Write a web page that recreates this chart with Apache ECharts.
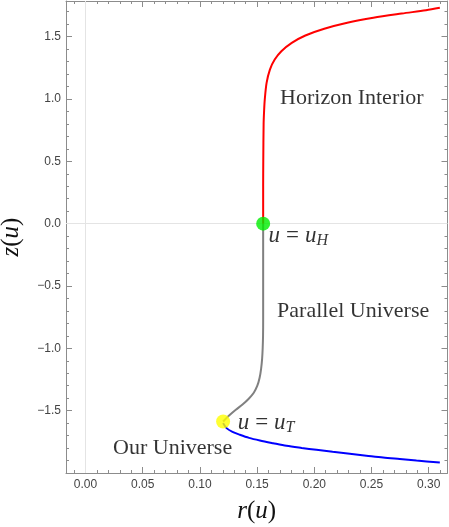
<!DOCTYPE html>
<html>
<head>
<meta charset="utf-8">
<script src="https://cdn.jsdelivr.net/npm/echarts@6/dist/echarts.min.js"></script>
<style>
  html, body { margin: 0; padding: 0; background: #fff; }
  #chart { width: 449px; height: 527px; }
</style>
</head>
<body>
<div id="chart"></div>
<script>
// horizon interior branch (red)
const redR = [0.1553, 0.1553, 0.1554, 0.1557, 0.1561, 0.1567, 0.1583, 0.1612, 0.1654, 0.1712, 0.1803, 0.1922, 0.2087, 0.2288, 0.2516, 0.2764, 0.2976, 0.3097];
const redZ = [0, 0.30, 0.50, 0.80, 0.90, 0.995, 1.129, 1.236, 1.316, 1.383, 1.450, 1.509, 1.563, 1.611, 1.651, 1.685, 1.712, 1.731];
// parallel universe branch (gray)
const grayR = [0.1553, 0.1553, 0.1553, 0.1552, 0.1549, 0.1544, 0.1535, 0.1522, 0.1502, 0.1471, 0.1427, 0.1375, 0.1314, 0.1253, 0.1203];
const grayZ = [0, -0.40, -0.770, -0.899, -0.995, -1.083, -1.164, -1.236, -1.300, -1.356, -1.404, -1.449, -1.493, -1.541, -1.587];
// our universe branch (blue)
const blueR = [0.1203, 0.1233, 0.1285, 0.1349, 0.1430, 0.1524, 0.1640, 0.1757, 0.1890, 0.2019, 0.2160, 0.2310, 0.2455, 0.2601, 0.2747, 0.2893, 0.3097];
const blueZ = [-1.600, -1.640, -1.670, -1.693, -1.718, -1.739, -1.761, -1.782, -1.799, -1.814, -1.830, -1.846, -1.861, -1.876, -1.888, -1.900, -1.916];

// marked points
const horizonPt = [0.1553, 0];
const turnPt = [0.1203, -1.587];

// text annotations
const noteText = ['Horizon Interior', 'Parallel Universe', 'Our Universe', '{i|u}{n|=}{i|u}{s|H}', '{i|u}{n|=}{i|u}{s|T}'];
const noteR = [0.1701, 0.1675, 0.0241, 0.1600, 0.1330];
const noteZ = [1.01, -0.70, -1.80, -0.095, -1.595];

// ticks
const xTicks = [0, 0.05, 0.10, 0.15, 0.20, 0.25, 0.30];
const yTicks = [-1.5, -1.0, -0.5, 0, 0.5, 1.0, 1.5];
const xMin = -0.017, xMax = 0.3164;
const yMin = -2.0, yMax = 1.786;

const xMinor = [];
for (let i = -1; i <= 31; i++) if (i % 5 !== 0) xMinor.push(+(i * 0.01).toFixed(2));
const yMinor = [];
for (let i = -19; i <= 17; i++) if (i % 5 !== 0) yMinor.push(+(i * 0.1).toFixed(1));

const zip = (a, b) => a.map((v, i) => [v, b[i]]);

const frame = '#8c8c8c';
const serif = 'Liberation Serif';
const mathRich = {
  i: { fontFamily: serif, fontStyle: 'italic', fontSize: 23, color: '#000', lineHeight: 26 },
  n: { fontFamily: serif, fontSize: 23, color: '#000', lineHeight: 26, padding: [0, 6] },
  s: { fontFamily: serif, fontStyle: 'italic', fontSize: 16, color: '#000', lineHeight: 10, verticalAlign: 'bottom' }
};

function xAxisOf(grid, pos, major) {
  return {
    type: 'value', gridIndex: grid, position: pos, min: xMin, max: xMax,
    axisLine: { show: major, onZero: false, lineStyle: { color: frame, width: 1 } },
    axisTick: { show: true, inside: true, length: major ? 6 : 3, customValues: major ? xTicks : xMinor,
      lineStyle: { color: frame } },
    axisLabel: { show: major && pos === 'bottom', customValues: xTicks, formatter: v => v.toFixed(2),
      color: '#444', fontFamily: 'Liberation Sans', fontSize: 12, margin: 6 },
    splitLine: { show: false },
    name: major && pos === 'bottom' ? '{i|r}{n|(}{i|u}{n|)}' : '',
    nameLocation: 'middle', nameGap: 26,
    nameTextStyle: { rich: {
      i: { fontFamily: serif, fontStyle: 'italic', fontSize: 25, color: '#111' },
      n: { fontFamily: serif, fontSize: 25, color: '#111' } } }
  };
}
function yAxisOf(grid, pos, major) {
  return {
    type: 'value', gridIndex: grid, position: pos, min: yMin, max: yMax,
    axisLine: { show: major, onZero: false, lineStyle: { color: frame, width: 1 } },
    axisTick: { show: true, inside: true, length: major ? 6 : 3, customValues: major ? yTicks : yMinor,
      lineStyle: { color: frame } },
    axisLabel: { show: major && pos === 'left', customValues: yTicks, formatter: v => v.toFixed(1).replace('-', '\u2212'),
      color: '#444', fontFamily: 'Liberation Sans', fontSize: 12, margin: 5 },
    splitLine: { show: false },
    name: major && pos === 'left' ? '{i|z}{n|(}{i|u}{n|)}' : '',
    nameLocation: 'middle', nameGap: 42, nameRotate: 90,
    nameTextStyle: { rich: {
      i: { fontFamily: serif, fontStyle: 'italic', fontSize: 25, color: '#111' },
      n: { fontFamily: serif, fontSize: 25, color: '#111' } } }
  };
}

const gridBox = { left: 66, right: 1.5, top: 1, bottom: 54, containLabel: false, outerBoundsMode: 'none' };

const chart = echarts.init(document.getElementById('chart'), null, { renderer: 'canvas' });
chart.setOption({
  animation: false,
  backgroundColor: '#fff',
  grid: [Object.assign({}, gridBox), Object.assign({}, gridBox)],
  xAxis: [xAxisOf(0, 'bottom', true), xAxisOf(0, 'top', true), xAxisOf(1, 'bottom', false), xAxisOf(1, 'top', false)],
  yAxis: [yAxisOf(0, 'left', true), yAxisOf(0, 'right', true), yAxisOf(1, 'left', false), yAxisOf(1, 'right', false)],
  series: [
    {
      type: 'line', xAxisIndex: 0, yAxisIndex: 0, data: zip(grayR, grayZ), showSymbol: false,
      lineStyle: { color: '#808080', width: 2 }, smooth: 0.3, z: 2,
      markLine: {
        silent: true, symbol: 'none', label: { show: false },
        lineStyle: { color: '#e4e4e4', width: 1, type: 'solid' },
        data: [{ xAxis: 0 }, { yAxis: 0 }], z: 1
      }
    },
    { type: 'line', xAxisIndex: 0, yAxisIndex: 0, data: zip(redR, redZ), showSymbol: false,
      lineStyle: { color: '#ff0000', width: 2 }, smooth: 0.3, z: 2 },
    { type: 'line', xAxisIndex: 0, yAxisIndex: 0, data: zip(blueR, blueZ), showSymbol: false,
      lineStyle: { color: '#0000ff', width: 2 }, smooth: 0.3, z: 2 },
    { type: 'scatter', xAxisIndex: 0, yAxisIndex: 0, data: [horizonPt], symbolSize: 14,
      itemStyle: { color: '#00ee00' }, z: 3 },
    { type: 'scatter', xAxisIndex: 0, yAxisIndex: 0, data: [turnPt], symbolSize: 14,
      itemStyle: { color: '#ffff00' }, z: 3 },
    {
      type: 'scatter', xAxisIndex: 0, yAxisIndex: 0, symbolSize: 0, silent: true, z: 4,
      data: noteText.map((t, i) => ({ value: [noteR[i], noteZ[i]], name: t })),
      label: {
        show: true, position: [0, 0], align: 'left', verticalAlign: 'middle',
        formatter: p => p.name, fontFamily: serif, fontSize: 22, color: '#000', rich: mathRich
      }
    }
  ]
});
</script>
</body>
</html>
